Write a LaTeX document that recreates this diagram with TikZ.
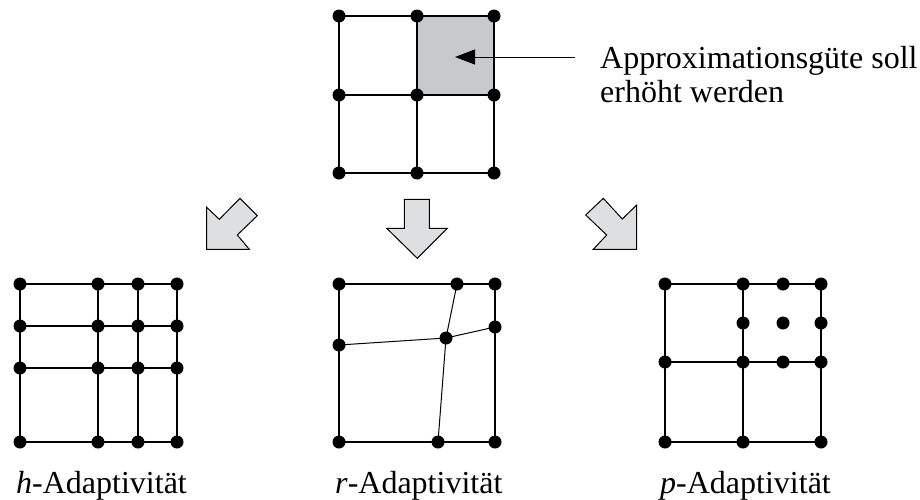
\documentclass[tikz,border=0pt]{standalone}
\usepackage{fontspec}
\setmainfont{Liberation Serif}
\usepackage{tikz}
\usetikzlibrary{arrows.meta, positioning}
\definecolor{cellgray}{RGB}{200,201,203}
\definecolor{arrowgray}{RGB}{222,223,225}
\tikzset{
  dot/.style={circle, fill=black, inner sep=0pt, minimum size=13pt},
  gridline/.style={draw=black, line width=1.3pt},
  bigarr/.style={draw=black, fill=arrowgray, line width=1pt, line join=miter},
  callarr/.style={line width=1pt, -{Triangle[length=20pt, width=15pt]}},
  lbl/.style={anchor=base west, inner sep=0pt, font=\fontsize{32}{34}\selectfont},
}

\begin{document}
\begin{tikzpicture}[x=1pt, y=-1pt]
\useasboundingbox (0,0) rectangle (920,499);

% top mesh
\foreach \c/\x in {1/339,2/417,3/494}
  \foreach \r/\y in {1/16,2/95,3/173}
    \coordinate (t\c\r) at (\x,\y);
\fill[cellgray] (t21) rectangle (t32);
\foreach \r in {1,2,3} \draw[gridline] (t1\r) -- (t3\r);
\foreach \c in {1,2,3} \draw[gridline] (t\c1) -- (t\c3);
\foreach \c in {1,2,3} \foreach \r in {1,2,3} \node[dot] at (t\c\r) {};

\coordinate (calltip) at (455,57);
\coordinate (callend) at (575,57);
\draw[callarr] (callend) -- (calltip);
\node[lbl] (note1) at (600,68) {Approximationsgüte soll};
\node[lbl] (note2) at (600,102) {erhöht werden};

% block arrows
\draw[bigarr] (206.7,207.3) -- (219.3,219.3) -- (240,198.3) -- (257.3,215.7)
  -- (237.3,235) -- (249.3,249.3) -- (206.7,249.3) -- cycle;
\draw[bigarr] (404.3,199.3) -- (429.3,199.3) -- (429.3,228.3) -- (447.3,228.3)
  -- (417.3,258.3) -- (386.7,228.3) -- (404.3,228.3) -- cycle;
\draw[bigarr] (636.7,205) -- (622.3,219) -- (603.3,198.3) -- (585.7,215)
  -- (606.7,235) -- (593.3,249.3) -- (636.7,249.3) -- cycle;

% h-mesh
\foreach \c/\x in {1/20,2/98,3/138,4/177}
  \foreach \r/\y in {1/284,2/326,3/368,4/442}
    \coordinate (h\c\r) at (\x,\y);
\foreach \r in {1,2,3,4} \draw[gridline] (h1\r) -- (h4\r);
\foreach \c in {1,2,3,4} \draw[gridline] (h\c1) -- (h\c4);
\foreach \c in {1,2,3,4} \foreach \r in {1,2,3,4} \node[dot] at (h\c\r) {};
\node[lbl] (hlbl) at (16,493) {\textit{h}-Adaptivität};

% r-mesh
\coordinate (rtl) at (339,284);
\coordinate (rtr) at (495,284);
\coordinate (rbl) at (339,442);
\coordinate (rbr) at (495,442);
\coordinate (rt) at (457,284);
\coordinate (rr) at (495,327);
\coordinate (rl) at (339,345);
\coordinate (rb) at (438,442);
\coordinate (rm) at (446,338);
\draw[gridline] (rtl) -- (rtr) -- (rbr) -- (rbl) -- cycle;
\draw[line width=1pt] (rt) -- (rm) -- (rb);
\draw[line width=1pt] (rl) -- (rm) -- (rr);
\foreach \n in {rtl,rtr,rbl,rbr,rt,rr,rl,rb,rm} \node[dot] at (\n) {};
\node[lbl] (rlbl) at (335,493) {\textit{r}-Adaptivität};

% p-mesh
\foreach \c/\x in {1/665,2/743,3/783,4/821}
  \foreach \r/\y in {1/284,2/323,3/362,4/442}
    \coordinate (p\c\r) at (\x,\y);
\draw[gridline] (p11) -- (p41) -- (p44) -- (p14) -- cycle;
\draw[gridline] (p21) -- (p24);
\draw[gridline] (p13) -- (p43);
\foreach \n in {11,21,31,41,22,32,42,13,23,33,43,14,24,44} \node[dot] at (p\n) {};
\node[lbl] (plbl) at (660,493) {\textit{p}-Adaptivität};
\end{tikzpicture}
\end{document}
